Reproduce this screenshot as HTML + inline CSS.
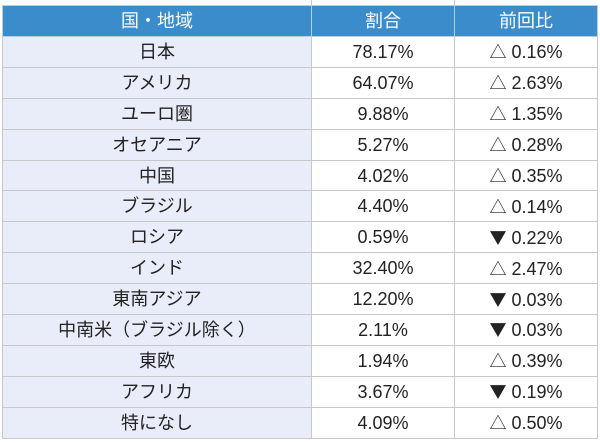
<!DOCTYPE html>
<html><head><meta charset="utf-8"><style>
body{margin:0;width:600px;height:444px;background:#fff;overflow:hidden;font-family:"Liberation Sans","Noto Sans CJK JP",sans-serif;}
table{position:absolute;left:2px;top:5px;border-collapse:collapse;width:596px;}
td,th{border:1px solid #c8c8c8;text-align:center;font-size:18px;color:#222;height:29.9px;padding:0;font-weight:normal;line-height:20px;}
th{background:#3a8ccb;color:#fff;height:30px;border-color:#b8cde0;}
td.a{background:#e9edf9;width:308px;}
td.b{width:142px;}
.t{font-family:"Noto Sans CJK JP",sans-serif;font-size:17px;}
.top{position:absolute;top:0;height:5px;width:1px;background:#ccc;}
</style></head><body>
<div class="top" style="left:311px"></div><div class="top" style="left:454px"></div>
<table>
<tr><th>国・地域</th><th>割合</th><th>前回比</th></tr>
<tr><td class="a">日本</td><td class="b">78.17%</td><td><span class="t">△</span> 0.16%</td></tr>
<tr><td class="a">アメリカ</td><td class="b">64.07%</td><td><span class="t">△</span> 2.63%</td></tr>
<tr><td class="a">ユーロ圏</td><td class="b">9.88%</td><td><span class="t">△</span> 1.35%</td></tr>
<tr><td class="a">オセアニア</td><td class="b">5.27%</td><td><span class="t">△</span> 0.28%</td></tr>
<tr><td class="a">中国</td><td class="b">4.02%</td><td><span class="t">△</span> 0.35%</td></tr>
<tr><td class="a">ブラジル</td><td class="b">4.40%</td><td><span class="t">△</span> 0.14%</td></tr>
<tr><td class="a">ロシア</td><td class="b">0.59%</td><td><span class="t">▼</span> 0.22%</td></tr>
<tr><td class="a">インド</td><td class="b">32.40%</td><td><span class="t">△</span> 2.47%</td></tr>
<tr><td class="a">東南アジア</td><td class="b">12.20%</td><td><span class="t">▼</span> 0.03%</td></tr>
<tr><td class="a">中南米（ブラジル除く）</td><td class="b">2.11%</td><td><span class="t">▼</span> 0.03%</td></tr>
<tr><td class="a">東欧</td><td class="b">1.94%</td><td><span class="t">△</span> 0.39%</td></tr>
<tr><td class="a">アフリカ</td><td class="b">3.67%</td><td><span class="t">▼</span> 0.19%</td></tr>
<tr><td class="a">特になし</td><td class="b">4.09%</td><td><span class="t">△</span> 0.50%</td></tr>
</table>
</body></html>
